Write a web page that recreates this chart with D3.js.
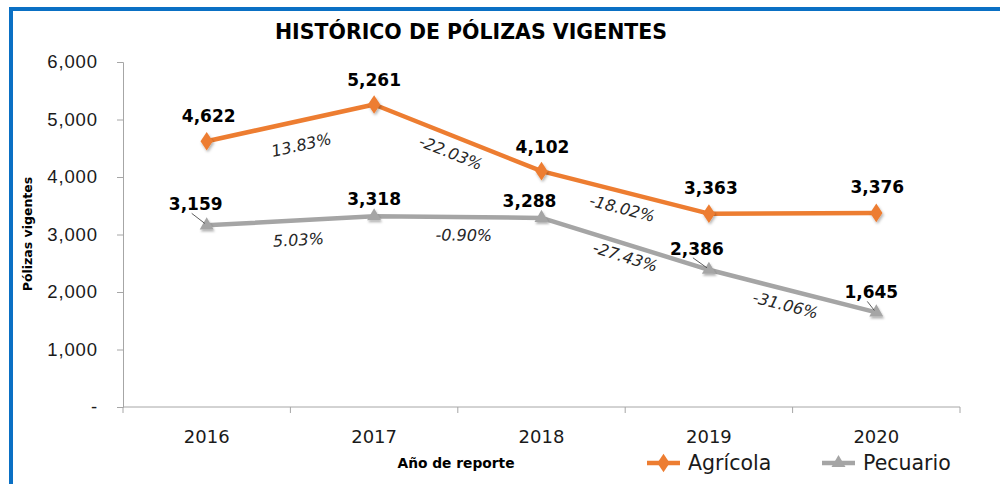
<!DOCTYPE html>
<html>
<head>
<meta charset="utf-8">
<script src="https://cdn.jsdelivr.net/npm/d3@7/dist/d3.min.js"></script>
<style>
  html, body { margin: 0; padding: 0; background: #fff; }
  svg { display: block; font-family: "Century Gothic", "DejaVu Sans", sans-serif; }
</style>
</head>
<body>
<div id="chart"></div>
<script>
// data
const years = ["2016", "2017", "2018", "2019", "2020"];
const agricola = [4622, 5261, 4102, 3363, 3376];
const pecuario = [3159, 3318, 3288, 2386, 1645];
const agricolaChange = ["13.83%", "-22.03%", "-18.02%", null];
const pecuarioChange = ["5.03%", "-0.90%", "-27.43%", "-31.06%"];
const yTicks = [0, 1000, 2000, 3000, 4000, 5000, 6000];

const W = 1000, H = 484;
const margin = { top: 62, right: 40, bottom: 77, left: 123 };

const svg = d3.select("#chart").append("svg")
    .attr("width", W)
    .attr("height", H);

// drop shadow for markers
const defs = svg.append("defs");
const shadow = defs.append("filter").attr("id", "shadow")
    .attr("x", "-50%").attr("y", "-50%").attr("width", "200%").attr("height", "200%");
shadow.append("feDropShadow")
    .attr("dx", 1).attr("dy", 2).attr("stdDeviation", 1.2)
    .attr("flood-color", "#000").attr("flood-opacity", 0.3);

// blue frame (top + left only)
svg.append("path")
    .attr("d", `M11,${H} L11,9 L${W},9`)
    .attr("fill", "none")
    .attr("stroke", "#0A70C4")
    .attr("stroke-width", 4);

const x = d3.scalePoint()
    .domain(years)
    .range([margin.left, W - margin.right])
    .padding(0.5);

const y = d3.scaleLinear()
    .domain([0, 6000])
    .range([H - margin.bottom, margin.top]);

const step = x.step();

// y axis
const yAxis = svg.append("g")
    .attr("transform", `translate(${margin.left},0)`)
    .call(d3.axisLeft(y).tickValues(yTicks).tickSize(6).tickPadding(19)
        .tickFormat(d => d === 0 ? "-" : d3.format(",")(d)));
yAxis.select(".domain").attr("stroke", "#A6A6A6");
yAxis.selectAll(".tick line").attr("stroke", "#A6A6A6");
yAxis.selectAll(".tick text")
    .attr("fill", "#1a1a1a")
    .style("font-size", "18.5px")
    .style("letter-spacing", "0.9px")
    .style("font-family", "inherit");

// x axis: tick marks at category boundaries
const xAxisG = svg.append("g")
    .attr("transform", `translate(0,${y(0)})`);
xAxisG.append("line")
    .attr("x1", margin.left).attr("x2", W - margin.right)
    .attr("stroke", "#A6A6A6");
xAxisG.selectAll(".bound")
    .data(d3.range(years.length + 1))
    .enter().append("line")
    .attr("class", "bound")
    .attr("x1", i => margin.left + i * step)
    .attr("x2", i => margin.left + i * step)
    .attr("y1", 0).attr("y2", 6)
    .attr("stroke", "#A6A6A6");
xAxisG.selectAll(".lbl")
    .data(years)
    .enter().append("text")
    .attr("class", "lbl")
    .attr("x", d => x(d))
    .attr("y", 36)
    .attr("text-anchor", "middle")
    .attr("fill", "#1a1a1a")
    .style("font-size", "18px")
    .text(d => d);

// titles
svg.append("text")
    .attr("x", 471).attr("y", 39)
    .attr("text-anchor", "middle")
    .style("font-size", "20.5px")
    .style("font-weight", "bold")
    .text("HISTÓRICO DE PÓLIZAS VIGENTES");

svg.append("text")
    .attr("transform", "translate(32,234) rotate(-90)")
    .attr("text-anchor", "middle")
    .style("font-size", "12.5px")
    .style("font-weight", "bold")
    .text("Pólizas vigentes");

svg.append("text")
    .attr("x", 456).attr("y", 468)
    .attr("text-anchor", "middle")
    .style("font-size", "13.8px")
    .style("font-weight", "bold")
    .text("Año de reporte");

const series = [
    { name: "Agrícola", values: agricola, change: agricolaChange, color: "#ED7D31",
      symbol: d3.symbolDiamond, size: 100,
      labelOffset: [[2, -19], [0, -18], [1, -18], [2, -20], [1, -20]],
      leader: [false, false, false, false, false],
      pctOffset: [[11, 22], [-7, 15], [-3, 16], [0, 0]] },
    { name: "Pecuario", values: pecuario, change: pecuarioChange, color: "#A5A5A5",
      symbol: d3.symbolTriangle, size: 85,
      labelOffset: [[-11, -15], [0, -11], [-12, -11], [-12, -15], [-5, -14]],
      leader: [true, false, false, true, true],
      pctOffset: [[8, 19], [6, 18], [0, 13], [-7, 14]] }
];

const line = d3.line()
    .x((d, i) => x(years[i]))
    .y(d => y(d));

series.forEach(s => {
    const g = svg.append("g");

    g.append("path")
        .datum(s.values)
        .attr("fill", "none")
        .attr("stroke", s.color)
        .attr("stroke-width", 4.5)
        .attr("stroke-linejoin", "round")
        .attr("d", line);

    g.selectAll(".mark")
        .data(s.values)
        .enter().append("path")
        .attr("class", "mark")
        .attr("transform", (d, i) => `translate(${x(years[i])},${y(d)})${s.symbol === d3.symbolDiamond ? " scale(1.15,1)" : ""}`)
        .attr("d", d3.symbol().type(s.symbol).size(s.size))
        .attr("fill", s.color)
        .attr("filter", "url(#shadow)");

    // leader lines
    g.selectAll(".leader")
        .data(s.values.map((v, i) => ({ v, i })).filter(d => s.leader[d.i]))
        .enter().append("line")
        .attr("x1", d => x(years[d.i]) + s.labelOffset[d.i][0] - 4)
        .attr("y1", d => y(d.v) + s.labelOffset[d.i][1] + 3)
        .attr("x2", d => x(years[d.i]) - 2)
        .attr("y2", d => y(d.v) - 2)
        .attr("stroke", "#333")
        .attr("stroke-width", 0.8);

    g.selectAll(".val")
        .data(s.values)
        .enter().append("text")
        .attr("x", (d, i) => x(years[i]) + s.labelOffset[i][0])
        .attr("y", (d, i) => y(d) + s.labelOffset[i][1])
        .attr("text-anchor", "middle")
        .style("font-size", "17px")
        .style("font-weight", "bold")
        .text(d => d3.format(",")(d));

    // percentage change labels along each segment
    const segs = s.change.map((c, i) => {
        const x0 = x(years[i]), y0 = y(s.values[i]);
        const x1 = x(years[i + 1]), y1 = y(s.values[i + 1]);
        const a = Math.atan2(y1 - y0, x1 - x0);
        return {
            c,
            cx: (x0 + x1) / 2 + s.pctOffset[i][0],
            cy: (y0 + y1) / 2 + s.pctOffset[i][1],
            deg: a * 180 / Math.PI
        };
    }).filter(d => d.c !== null);

    g.selectAll(".pct")
        .data(segs)
        .enter().append("text")
        .attr("transform", d => `translate(${d.cx},${d.cy}) rotate(${d.deg})`)
        .attr("text-anchor", "middle")
        .attr("dy", "0.35em")
        .attr("fill", "#262626")
        .style("font-size", "16px")
        .style("font-style", "italic")
        .text(d => d.c);
});

// legend
const legend = svg.append("g").attr("transform", "translate(647,463)");
series.forEach((s, i) => {
    const lg = legend.append("g").attr("transform", `translate(${i * 175},0)`);
    lg.append("line")
        .attr("x1", 0).attr("x2", 33)
        .attr("stroke", s.color).attr("stroke-width", 4.5);
    lg.append("path")
        .attr("transform", `translate(16.5,0)${s.symbol === d3.symbolDiamond ? " scale(1.15,1)" : ""}`)
        .attr("d", d3.symbol().type(s.symbol).size(s.size))
        .attr("fill", s.color);
    lg.append("text")
        .attr("x", 41).attr("dy", "0.35em")
        .attr("fill", "#1a1a1a")
        .style("font-size", "20.5px")
        .text(s.name);
});
</script>
</body>
</html>
